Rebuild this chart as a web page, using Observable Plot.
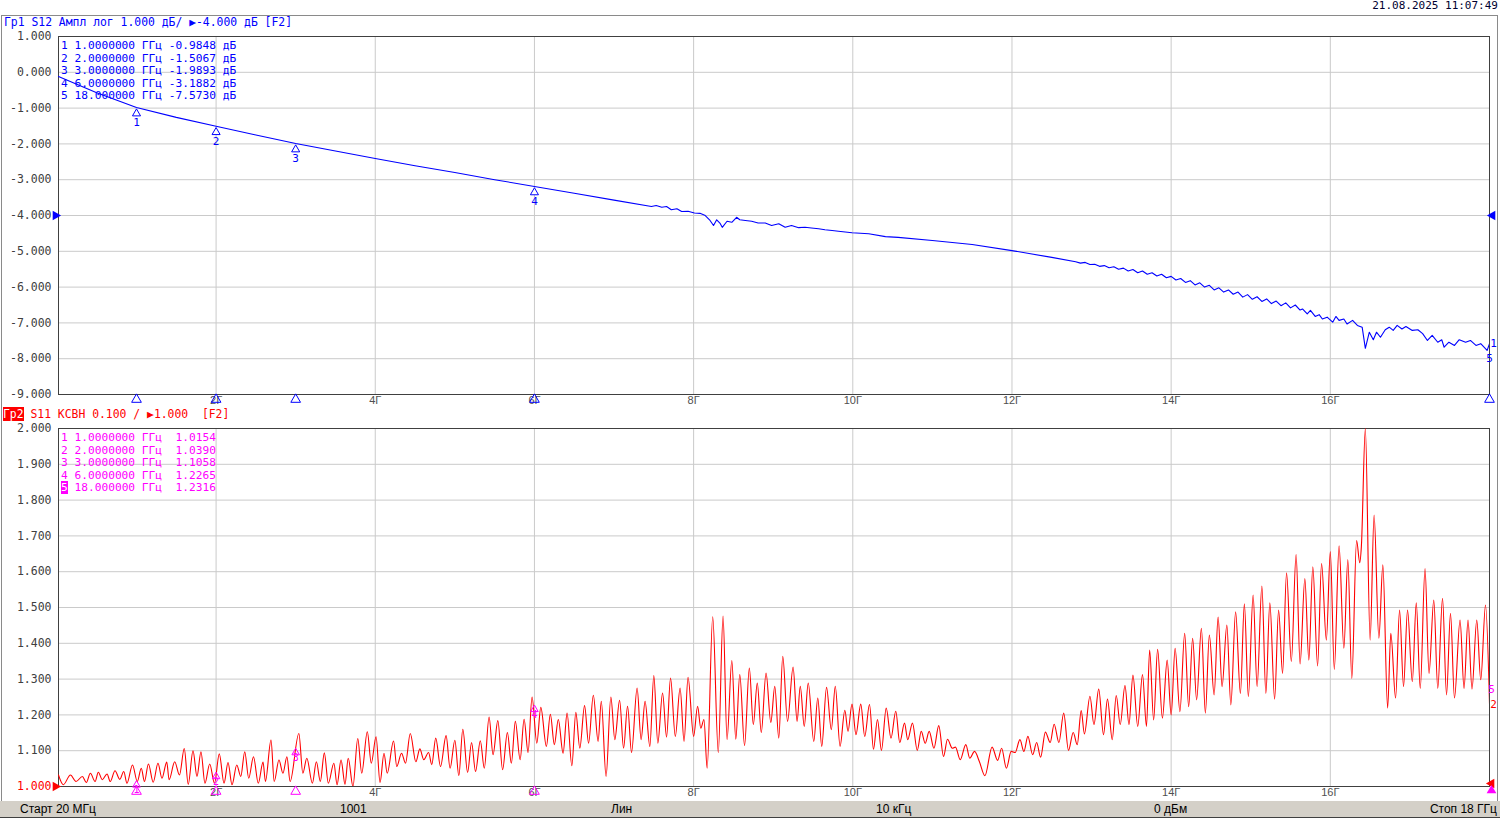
<!DOCTYPE html>
<html><head><meta charset="utf-8">
<script src="https://cdn.jsdelivr.net/npm/d3@7"></script>
<script src="https://cdn.jsdelivr.net/npm/@observablehq/plot@0.6"></script>
<style>
html,body{margin:0;padding:0;background:#fff;width:1500px;height:818px;overflow:hidden;}
#root{position:relative;width:1500px;height:818px;}
.abs{position:absolute;white-space:pre;}
.mono{font-family:"DejaVu Sans Mono",monospace;}
#frame{position:absolute;left:1px;top:15px;width:1495px;height:785px;border:1px solid #8a8a8a;border-bottom:none;}
#status{position:absolute;left:0;top:801px;width:1500px;height:16px;background:#d4d0c8;border-bottom:1px solid #404040;font-family:"Liberation Sans",Arial,sans-serif;font-size:12px;color:#000;}
#status span{position:absolute;top:1px;line-height:14px;}
svg{overflow:visible;}
</style></head>
<body><div id="root">
<div id="frame"></div>
<div id="chart1" class="abs" style="left:0;top:16px"></div>
<div id="chart2" class="abs" style="left:0;top:408px"></div>
<div class="abs mono" style="right:2px;top:-1px;font-size:11px;line-height:13px;color:#000030">21.08.2025 11:07:49</div>
<div class="abs mono" style="left:4px;top:16px;font-size:11.4px;line-height:13px;color:#0000ff">Гр1 S12 Ампл лог 1.000 дБ/ ▶-4.000 дБ [F2]</div>
<div class="abs mono" style="left:3px;top:408px;font-size:11.4px;line-height:13px;color:#ff0000"><span style="background:#ff0000;color:#fff">Гр2</span> S11 КСВН 0.100 / ▶1.000  [F2]</div>
<div id="table1" class="abs mono" style="left:61px;top:40px;font-size:11.2px;line-height:12.6px;color:#0000ff"></div>
<div id="table2" class="abs mono" style="left:61px;top:432px;font-size:11.2px;line-height:12.6px;color:#ff00ff"></div>
<div id="status">
<span style="left:20px">Старт 20 МГц</span>
<span style="left:340px">1001</span>
<span style="left:611px">Лин</span>
<span style="left:876px">10 кГц</span>
<span style="left:1154px">0 дБм</span>
<span style="right:3px">Стоп 18 ГГц</span>
</div>
</div>
<script>
// ---------- data ----------
const xTicks = [2, 4, 6, 8, 10, 12, 14, 16];
const topYTicks = [1, 0, -1, -2, -3, -4, -5, -6, -7, -8, -9];
const botYTicks = [2.0, 1.9, 1.8, 1.7, 1.6, 1.5, 1.4, 1.3, 1.2, 1.1];
const topRefLevel = -4;
const botRefLevel = 1.0;

const markerFreq = [1, 2, 3, 6, 18];
const markerS12 = [-0.9848, -1.5067, -1.9893, -3.1882, -7.5730];
const markerVswr = [1.0154, 1.0390, 1.1058, 1.2265, 1.2316];

const blueFreq = [0.02, 0.5, 1.0, 1.5, 2.0, 2.5, 3.0, 3.5, 4.0, 4.5, 5.0, 5.5, 6.0, 6.5, 7.0,
  7.47, 7.53, 7.60, 7.66, 7.72, 7.79, 7.85, 7.93, 8.01, 8.08, 8.14, 8.20, 8.25, 8.29, 8.33, 8.36,
  8.42, 8.48, 8.54, 8.58, 8.65, 8.73, 8.81, 8.90, 8.98, 9.07, 9.15, 9.23, 9.32, 9.40, 9.48, 9.57,
  9.65, 9.74, 9.82, 9.99, 10.20, 10.41, 10.57, 11.0, 11.5, 12.0, 12.5,
  12.80, 12.86, 12.92, 12.98, 13.04, 13.10, 13.16, 13.22, 13.28, 13.34, 13.40, 13.46, 13.52, 13.58,
  13.64, 13.70, 13.76, 13.82, 13.88, 13.94, 14.00, 14.06, 14.12, 14.18, 14.24, 14.30, 14.36, 14.42,
  14.48, 14.54, 14.60, 14.66, 14.72, 14.78, 14.84, 14.90, 14.96, 15.02, 15.08, 15.14, 15.20, 15.26,
  15.32, 15.38, 15.44, 15.50, 15.56, 15.62,
  15.65, 15.71, 15.75, 15.81, 15.86, 15.90, 15.96, 16.03, 16.07, 16.11, 16.17, 16.21,
  16.28, 16.34, 16.40, 16.44, 16.49, 16.54, 16.58, 16.63, 16.69, 16.74, 16.79, 16.84, 16.90, 16.95,
  17.03, 17.10, 17.16, 17.22, 17.28, 17.35, 17.40, 17.43, 17.49, 17.56, 17.62, 17.70, 17.76, 17.83,
  17.89, 17.97, 18.00];
const blueDb = [-0.12, -0.57, -0.985, -1.26, -1.507, -1.75, -1.989, -2.20, -2.41, -2.61, -2.80, -3.00, -3.188, -3.38, -3.57,
  -3.75, -3.72, -3.77, -3.75, -3.84, -3.81, -3.89, -3.88, -3.93, -3.94, -3.99, -4.12, -4.28, -4.12, -4.21, -4.33,
  -4.16, -4.19, -4.05, -4.12, -4.14, -4.16, -4.21, -4.21, -4.28, -4.23, -4.33, -4.28, -4.34, -4.33, -4.35, -4.37,
  -4.40, -4.42, -4.44, -4.48, -4.51, -4.59, -4.61, -4.70, -4.81, -4.98, -5.17,
  -5.29, -5.33, -5.31, -5.37, -5.36, -5.42, -5.40, -5.46, -5.43, -5.50, -5.47, -5.55, -5.51, -5.60,
  -5.55, -5.64, -5.60, -5.69, -5.64, -5.74, -5.70, -5.80, -5.76, -5.87, -5.82, -5.94, -5.88, -6.00,
  -5.95, -6.08, -6.02, -6.14, -6.08, -6.20, -6.14, -6.28, -6.21, -6.34, -6.27, -6.40, -6.33, -6.46,
  -6.39, -6.52, -6.44, -6.58, -6.50, -6.64,
  -6.61, -6.75, -6.65, -6.82, -6.77, -6.89, -6.84, -6.98, -6.82, -6.93, -6.89, -7.03,
  -6.93, -7.07, -7.12, -7.71, -7.26, -7.47, -7.26, -7.40, -7.19, -7.12, -7.21, -7.07, -7.17, -7.10,
  -7.21, -7.19, -7.30, -7.49, -7.35, -7.54, -7.47, -7.68, -7.54, -7.63, -7.47, -7.54, -7.49, -7.63,
  -7.58, -7.77, -7.58];

const redFreq = [0.02, 0.08, 0.17, 0.24, 0.32, 0.37, 0.42, 0.48, 0.52, 0.57, 0.63, 0.67, 0.73, 0.79, 0.84, 0.88,
  0.95, 1.01, 1.06, 1.10, 1.15, 1.21, 1.27, 1.32, 1.38, 1.41, 1.48, 1.54, 1.60, 1.65, 1.71, 1.76, 1.81, 1.86,
  1.92, 1.98, 2.04, 2.10, 2.15, 2.20, 2.26, 2.31, 2.36, 2.41, 2.47, 2.53, 2.59, 2.62, 2.69, 2.73, 2.79, 2.84,
  2.89, 2.93, 3.04, 3.09, 3.14, 3.21, 3.26, 3.31, 3.36, 3.41, 3.48, 3.52, 3.57, 3.62, 3.66, 3.72, 3.78, 3.83,
  3.90, 3.95, 4.01, 4.06, 4.11, 4.15, 4.23, 4.27, 4.33, 4.38, 4.44, 4.51, 4.56, 4.61, 4.67, 4.71, 4.76, 4.82,
  4.89, 4.94, 5.00, 5.05, 5.10, 5.16, 5.21, 5.26, 5.32, 5.37, 5.43, 5.48, 5.54, 5.60, 5.66, 5.71, 5.76, 5.82,
  5.87, 5.92, 5.97, 6.03, 6.08, 6.15, 6.20, 6.25, 6.30, 6.36, 6.41, 6.47, 6.52, 6.57, 6.63, 6.68, 6.74, 6.80,
  6.84, 6.90, 6.96, 7.01, 7.07, 7.12, 7.17, 7.22, 7.29, 7.34, 7.39, 7.45, 7.50, 7.55, 7.61, 7.66, 7.71, 7.77,
  7.83, 7.88, 7.93, 8.00, 8.05, 8.09, 8.13, 8.17, 8.24, 8.31, 8.37, 8.42, 8.48, 8.53, 8.58, 8.64, 8.70, 8.75,
  8.80, 8.85, 8.91, 8.97, 9.02, 9.07, 9.12, 9.18, 9.25, 9.30, 9.34, 9.39, 9.44, 9.51, 9.56, 9.61, 9.67, 9.73,
  9.78, 9.84, 9.90, 9.94, 9.99, 10.04, 10.10, 10.15, 10.21, 10.26, 10.31, 10.36, 10.42, 10.48, 10.54, 10.59,
  10.65, 10.69, 10.75, 10.81, 10.86, 10.91, 10.96, 11.02, 11.08, 11.14, 11.19, 11.25, 11.29, 11.35, 11.42,
  11.47, 11.53, 11.59, 11.66, 11.75, 11.82, 11.87, 11.93, 11.99, 12.04, 12.10, 12.15, 12.20, 12.26, 12.31,
  12.36, 12.42, 12.48, 12.53, 12.59, 12.65, 12.71, 12.77, 12.82, 12.87, 12.91, 12.98, 13.03, 13.09, 13.15,
  13.20, 13.26, 13.31, 13.36, 13.42, 13.47, 13.52, 13.58, 13.64, 13.69, 13.73, 13.78, 13.83, 13.89, 13.95,
  14.00, 14.05, 14.11, 14.17, 14.22, 14.27, 14.32, 14.38, 14.43, 14.48, 14.54, 14.59, 14.64, 14.70, 14.75,
  14.81, 14.87, 14.92, 14.97, 15.03, 15.08, 15.14, 15.19, 15.24, 15.30, 15.35, 15.40, 15.45, 15.51, 15.57,
  15.62, 15.68, 15.73, 15.78, 15.84, 15.89, 15.95, 16.00, 16.05, 16.11, 16.17, 16.22, 16.27, 16.33, 16.37,
  16.39, 16.44, 16.50, 16.55, 16.61, 16.66, 16.72, 16.76, 16.82, 16.87, 16.92, 16.97, 17.03, 17.08, 17.13,
  17.19, 17.24, 17.30, 17.35, 17.41, 17.46, 17.51, 17.56, 17.63, 17.68, 17.73, 17.78, 17.84, 17.89, 17.95,
  18.00];
const redVswr = [1.032, 1.005, 1.032, 1.014, 1.028, 1.011, 1.037, 1.014, 1.040, 1.019, 1.035, 1.014, 1.044, 1.020, 1.042, 1.009,
  1.060, 1.014, 1.051, 1.014, 1.063, 1.012, 1.065, 1.023, 1.068, 1.019, 1.069, 1.032, 1.106, 1.006, 1.100, 1.028, 1.097, 1.009,
  1.063, 1.009, 1.091, 1.009, 1.067, 1.005, 1.060, 1.028, 1.097, 1.023, 1.083, 1.009, 1.068, 1.014, 1.130, 1.014, 1.074, 1.037,
  1.083, 1.014, 1.148, 1.037, 1.079, 1.009, 1.069, 1.014, 1.094, 1.009, 1.065, 1.005, 1.074, 1.006, 1.079, 1.000, 1.134, 1.037,
  1.153, 1.065, 1.139, 1.011, 1.093, 1.037, 1.127, 1.056, 1.093, 1.065, 1.148, 1.069, 1.105, 1.075, 1.095, 1.061, 1.135, 1.056,
  1.142, 1.051, 1.129, 1.030, 1.160, 1.039, 1.123, 1.042, 1.128, 1.051, 1.194, 1.089, 1.184, 1.047, 1.151, 1.065, 1.182, 1.075,
  1.188, 1.095, 1.250, 1.121, 1.221, 1.112, 1.202, 1.117, 1.187, 1.093, 1.205, 1.058, 1.207, 1.107, 1.226, 1.121, 1.255, 1.126,
  1.238, 1.028, 1.250, 1.131, 1.241, 1.107, 1.224, 1.095, 1.275, 1.131, 1.238, 1.112, 1.310, 1.121, 1.261, 1.138, 1.303, 1.140,
  1.275, 1.126, 1.305, 1.140, 1.224, 1.163, 1.187, 1.051, 1.474, 1.095, 1.476, 1.131, 1.352, 1.132, 1.313, 1.114, 1.331, 1.173,
  1.289, 1.151, 1.317, 1.179, 1.280, 1.135, 1.364, 1.182, 1.334, 1.182, 1.280, 1.168, 1.289, 1.126, 1.247, 1.112, 1.277, 1.159,
  1.280, 1.112, 1.213, 1.154, 1.230, 1.145, 1.230, 1.140, 1.229, 1.104, 1.187, 1.101, 1.219, 1.135, 1.210, 1.123,
  1.177, 1.131, 1.177, 1.101, 1.154, 1.121, 1.154, 1.107, 1.170, 1.084, 1.132, 1.107, 1.110, 1.075, 1.117,
  1.079, 1.098, 1.070, 1.030, 1.110, 1.073, 1.107, 1.051, 1.098, 1.095, 1.131, 1.098, 1.140, 1.089, 1.123,
  1.082, 1.152, 1.123, 1.174, 1.123, 1.205, 1.101, 1.151, 1.117, 1.212, 1.147, 1.252, 1.173, 1.272, 1.145,
  1.244, 1.131, 1.254, 1.173, 1.282, 1.173, 1.311, 1.168, 1.313, 1.168, 1.381, 1.186, 1.383, 1.191, 1.353,
  1.200, 1.386, 1.209, 1.428, 1.223, 1.414, 1.242, 1.442, 1.205, 1.423, 1.256, 1.473, 1.279, 1.451, 1.228,
  1.488, 1.260, 1.510, 1.251, 1.535, 1.279, 1.560, 1.260, 1.513, 1.244, 1.493, 1.316, 1.597, 1.349, 1.648,
  1.342, 1.581, 1.353, 1.614, 1.337, 1.623, 1.409, 1.656, 1.327, 1.672, 1.386, 1.634, 1.302, 1.687, 1.625,
  1.670, 2.000, 1.409, 1.758, 1.414, 1.619, 1.219, 1.428, 1.247, 1.493, 1.279, 1.493, 1.293, 1.513, 1.274,
  1.609, 1.316, 1.521, 1.274, 1.526, 1.256, 1.484, 1.247, 1.465, 1.274, 1.465, 1.272, 1.465, 1.298, 1.507,
  1.232];

// ---------- build ----------
const blue = blueFreq.map((f, i) => ({f, v: blueDb[i]}));
const red = redFreq.map((f, i) => ({f, v: redVswr[i]}));
const mTop = markerFreq.map((f, i) => ({f, v: markerS12[i], n: String(i + 1)}));
const mBot = markerFreq.map((f, i) => ({f, v: markerVswr[i], n: String(i + 1)}));

const MONO = "DejaVu Sans Mono, monospace";
const SANS = "Liberation Sans, Arial, sans-serif";
const GRID = "#cacaca";
const FRAME = "#404040";
const xScale = {domain: [0.02, 18], axis: null, label: null};

const chart1 = Plot.plot({
  width: 1500, height: 394,
  marginLeft: 58, marginRight: 11, marginTop: 20, marginBottom: 16,
  style: {background: "transparent", overflow: "visible"},
  x: xScale,
  y: {domain: [-9, 1], axis: null, label: null},
  marks: [
    Plot.gridX(xTicks, {stroke: GRID, strokeOpacity: 1}),
    Plot.gridY(topYTicks, {stroke: GRID, strokeOpacity: 1}),
    Plot.axisX(xTicks, {tickSize: 0, tickPadding: 2, tickFormat: d => d + "Г", fontSize: 11, fontFamily: SANS, color: "#505050", label: null}),
    Plot.axisY(topYTicks, {tickSize: 0, tickPadding: 7, tickFormat: d => d.toFixed(3), fontSize: 11.5, fontFamily: MONO, color: "#404040", label: null}),
    Plot.frame({stroke: FRAME}),
    Plot.line(blue, {x: "f", y: "v", stroke: "#0000ff", strokeWidth: 1.1, clip: true}),
    Plot.dot([topRefLevel], {y: d => d, frameAnchor: "left", dx: -3, symbol: "triangle", rotate: 90, r: 3.6, fill: "#0000ff", stroke: "none"}),
    Plot.dot([topRefLevel], {y: d => d, frameAnchor: "right", dx: 3, symbol: "triangle", rotate: -90, r: 3.6, fill: "#0000ff", stroke: "none"}),
    Plot.dot(mTop, {x: "f", frameAnchor: "bottom", dy: 5, symbol: "triangle", r: 3.6, fill: "none", stroke: "#0000ff", strokeWidth: 1}),
    Plot.dot(mTop.slice(0, 4), {x: "f", y: "v", dy: 6, symbol: "triangle", r: 3, fill: "#fff", stroke: "#0000ff", strokeWidth: 1}),
    Plot.text(mTop, {x: "f", y: "v", text: "n", dy: 15, fill: "#0000ff", fontSize: 11, fontFamily: MONO}),
    Plot.text(mTop.slice(4), {x: "f", y: "v", text: d => "1", dx: 4, dy: 0, fill: "#0000ff", fontSize: 11, fontFamily: MONO})
  ]
});
document.getElementById("chart1").appendChild(chart1);

const chart2 = Plot.plot({
  width: 1500, height: 392,
  marginLeft: 58, marginRight: 11, marginTop: 20, marginBottom: 14,
  style: {background: "transparent", overflow: "visible"},
  x: xScale,
  y: {domain: [1, 2], axis: null, label: null},
  marks: [
    Plot.gridX(xTicks, {stroke: GRID, strokeOpacity: 1}),
    Plot.gridY(botYTicks, {stroke: GRID, strokeOpacity: 1}),
    Plot.axisX(xTicks, {tickSize: 0, tickPadding: 2, tickFormat: d => d + "Г", fontSize: 11, fontFamily: SANS, color: "#505050", label: null}),
    Plot.axisY(botYTicks, {tickSize: 0, tickPadding: 7, tickFormat: d => d.toFixed(3), fontSize: 11.5, fontFamily: MONO, color: "#404040", label: null}),
    Plot.axisY([botRefLevel], {tickSize: 0, tickPadding: 7, tickFormat: d => d.toFixed(3), fontSize: 11.5, fontFamily: MONO, color: "#ff0000", label: null}),
    Plot.frame({stroke: FRAME}),
    Plot.line(red, {x: "f", y: "v", stroke: "#ff0000", strokeWidth: 1.1, curve: "monotone-x", clip: true}),
    Plot.dot([botRefLevel], {y: d => d, frameAnchor: "left", dx: -3, symbol: "triangle", rotate: 90, r: 3.6, fill: "#ff0000", stroke: "none"}),
    Plot.dot([botRefLevel], {y: d => d, frameAnchor: "right", dx: 2, dy: -3, symbol: "triangle", rotate: -90, r: 3.6, fill: "#ff0000", stroke: "none"}),
    Plot.dot(mBot.slice(0, 4), {x: "f", frameAnchor: "bottom", dy: 5, symbol: "triangle", r: 3.6, fill: "none", stroke: "#ff00ff", strokeWidth: 1}),
    Plot.dot(mBot.slice(4), {x: "f", frameAnchor: "bottom", dx: 2, dy: 4, symbol: "triangle", r: 3.6, fill: "#ff00ff", stroke: "none"}),
    Plot.dot(mBot.slice(0, 4), {x: "f", y: "v", dy: 4, symbol: "triangle", r: 2.8, fill: "none", stroke: "#ff00ff", strokeWidth: 1}),
    Plot.text(mBot.slice(0, 4), {x: "f", y: "v", text: "n", dy: 9, fill: "#ff00ff", fontSize: 10, fontFamily: MONO}),
    Plot.text(mBot.slice(4), {x: "f", y: "v", text: "n", dx: 2, dy: -14, fill: "#ff00ff", fontSize: 11, fontFamily: MONO}),
    Plot.text(mBot.slice(4), {x: "f", y: "v", text: d => "2", dx: 4, dy: 1, fill: "#ff0000", fontSize: 11, fontFamily: MONO})
  ]
});
document.getElementById("chart2").appendChild(chart2);

// ---------- marker tables ----------
const fmtF = f => f.toPrecision(8);
document.getElementById("table1").textContent =
  mTop.map(d => `${d.n} ${fmtF(d.f)} ГГц ${d.v.toFixed(4)} дБ`).join("\n");
document.getElementById("table2").innerHTML =
  mBot.map((d, i) => (i === mBot.length - 1
      ? `<span style="background:#ff00ff;color:#fff">${d.n}</span>`
      : d.n) + ` ${fmtF(d.f)} ГГц  ${d.v.toFixed(4)}`).join("\n");
</script>
</body></html>
